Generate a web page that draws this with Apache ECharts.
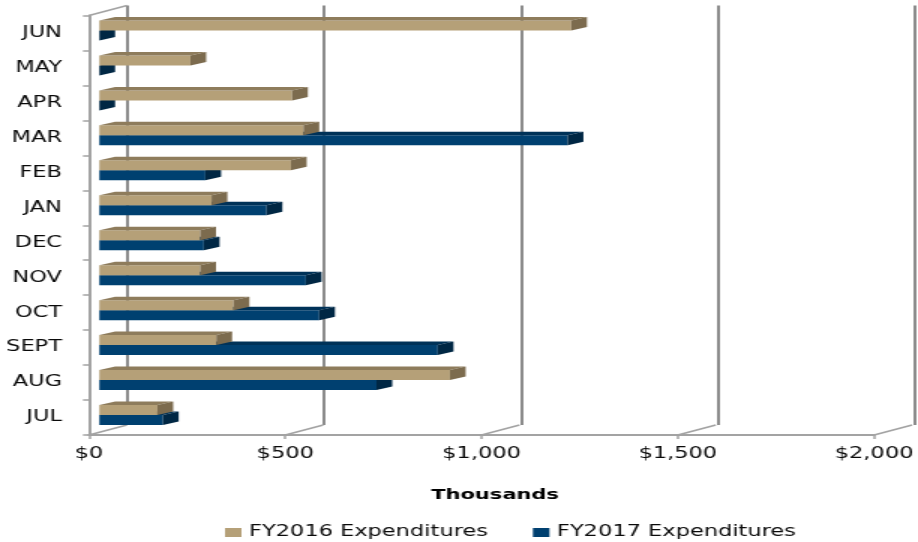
<!DOCTYPE html>
<html>
<head>
<meta charset="utf-8">
<script src="https://cdn.jsdelivr.net/npm/echarts@6/dist/echarts.min.js"></script>
<style>
  html, body { margin: 0; padding: 0; background: #ffffff; overflow: hidden; }
  #main { width: 612px; height: 542px; transform: scaleX(1.5); transform-origin: 0 0; }
</style>
</head>
<body>
<div id="main"></div>
<script>
// ---- data ----
const months = ['JUL', 'AUG', 'SEPT', 'OCT', 'NOV', 'DEC', 'JAN', 'FEB', 'MAR', 'APR', 'MAY', 'JUN'];
const fy2016 = [148, 893, 298, 342, 257, 257, 286, 488, 520, 491, 232, 1202];
const fy2017 = [162, 706, 862, 560, 526, 266, 426, 270, 1193, 0, 0, 0];
const xTicks = [0, 500, 1000, 1500, 2000];
const xTickLabels = ['$0', '$500', '$1,000', '$1,500', '$2,000'];
const seriesNames = ['FY2016 Expenditures', 'FY2017 Expenditures'];
const axisName = 'Thousands';

// ---- styling / pseudo-3D geometry ----
const FONT = 'DejaVu Sans';
const WALL_DX = 25.3, WALL_DY = -10;   // depth of the floor / wall
const BAR_X = 6.9;                      // bar plane shift
const BAR_DX = 10.5, BAR_DY = -3.5;     // bar depth
const TAN = { front: '#B5A078', top: '#8E7C5C', side: '#7C6B4E' };
const BLUE = { front: '#004070', top: '#003258', side: '#002744' };

function barRenderer(offTop, offBot, col) {
  return function (params, api) {
    const cat = api.value(0);
    const val = api.value(1);
    const p0 = api.coord([0, cat]);
    const p1 = api.coord([val, cat]);
    const xl = p0[0] + BAR_X, xr = p1[0] + BAR_X;
    const yt = p0[1] + offTop, yb = p0[1] + offBot;
    return {
      type: 'group',
      children: [
        { type: 'rect', shape: { x: xl, y: yt, width: Math.max(0, xr - xl), height: yb - yt },
          style: { fill: col.front } },
        { type: 'polygon', shape: { points: [[xl, yt], [xr, yt], [xr + BAR_DX, yt + BAR_DY], [xl + BAR_DX, yt + BAR_DY]] },
          style: { fill: col.top } },
        { type: 'polygon', shape: { points: [[xr, yt], [xr + BAR_DX, yt + BAR_DY], [xr + BAR_DX, yb + BAR_DY], [xr, yb]] },
          style: { fill: col.side } }
      ]
    };
  };
}

function frameRenderer(params, api) {
  const v = api.value(0);
  const x = api.coord([v, 0])[0];
  const cs = params.coordSys;
  const yB = cs.y + cs.height;
  const children = [
    { type: 'line', shape: { x1: x, y1: yB, x2: x + WALL_DX, y2: yB + WALL_DY },
      style: { stroke: '#a3a3a3', lineWidth: 1.5 } }
  ];
  if (v === 0) {
    children.push({ type: 'line', shape: { x1: x, y1: cs.y, x2: x + WALL_DX, y2: cs.y + WALL_DY },
      style: { stroke: '#a3a3a3', lineWidth: 1.5 } });
  }
  return { type: 'group', children: children };
}

const chart = echarts.init(document.getElementById('main'), null, { renderer: 'canvas' });
chart.setOption({
  animation: false,
  backgroundColor: '#ffffff',
  textStyle: { fontFamily: FONT },
  legend: {
    data: seriesNames,
    left: 150, top: 525, padding: 0,
    icon: 'rect', itemWidth: 11, itemHeight: 9, itemGap: 30,
    textStyle: { fontFamily: FONT, fontSize: 15, color: '#0a0a0a' }
  },
  grid: [
    { left: 59.33, right: 27.33, top: 15.5, bottom: 107 },
    { left: 84.67, right: 2, top: 5.5, bottom: 117 }
  ],
  xAxis: [
    {
      type: 'value', gridIndex: 0, min: 0, max: 2000, interval: 500,
      axisLine: { show: true, lineStyle: { color: '#a3a3a3', width: 2 } },
      axisTick: { show: true, length: 4, lineStyle: { color: '#a3a3a3', width: 1.5 } },
      splitLine: { show: false },
      axisLabel: {
        margin: 12, fontSize: 15, color: '#0a0a0a', fontFamily: FONT,
        formatter: function (v) { return xTickLabels[xTicks.indexOf(v)]; }
      },
      name: axisName, nameLocation: 'middle', nameGap: 53,
      nameTextStyle: { fontFamily: FONT, fontSize: 14, fontWeight: 'bold', color: '#000000', padding: [0, 0, 0, 18] }
    },
    {
      type: 'value', gridIndex: 1, min: 0, max: 2000, interval: 500,
      axisLine: { show: false }, axisTick: { show: false }, axisLabel: { show: false },
      splitLine: { show: true, lineStyle: { color: '#8c8c8c', width: 2 } }
    }
  ],
  yAxis: [
    {
      type: 'category', gridIndex: 0, data: months,
      axisLine: { show: true, lineStyle: { color: '#a3a3a3', width: 2 } },
      axisTick: { show: true, length: 4, lineStyle: { color: '#a3a3a3', width: 1.5 } },
      axisLabel: { margin: 18, fontSize: 15, color: '#0a0a0a', fontFamily: FONT, padding: [5, 0, 0, 0] },
      splitLine: { show: false }
    },
    {
      type: 'category', gridIndex: 1, data: months, show: false
    }
  ],
  series: [
    {
      name: 'frame', type: 'custom', xAxisIndex: 0, yAxisIndex: 0, silent: true, z: 1,
      renderItem: frameRenderer,
      data: xTicks.map(v => [v]),
      encode: { x: 0 }
    },
    {
      name: seriesNames[1], type: 'custom', xAxisIndex: 0, yAxisIndex: 0, z: 2,
      itemStyle: { color: BLUE.front },
      renderItem: barRenderer(-2.5, 7.5, BLUE),
      data: fy2017.map((v, i) => [i, v]),
      encode: { x: 1, y: 0 }
    },
    {
      name: seriesNames[0], type: 'custom', xAxisIndex: 0, yAxisIndex: 0, z: 3,
      itemStyle: { color: TAN.front },
      renderItem: barRenderer(-12.5, -2.5, TAN),
      data: fy2016.map((v, i) => [i, v]),
      encode: { x: 1, y: 0 }
    }
  ]
});
</script>
</body>
</html>
